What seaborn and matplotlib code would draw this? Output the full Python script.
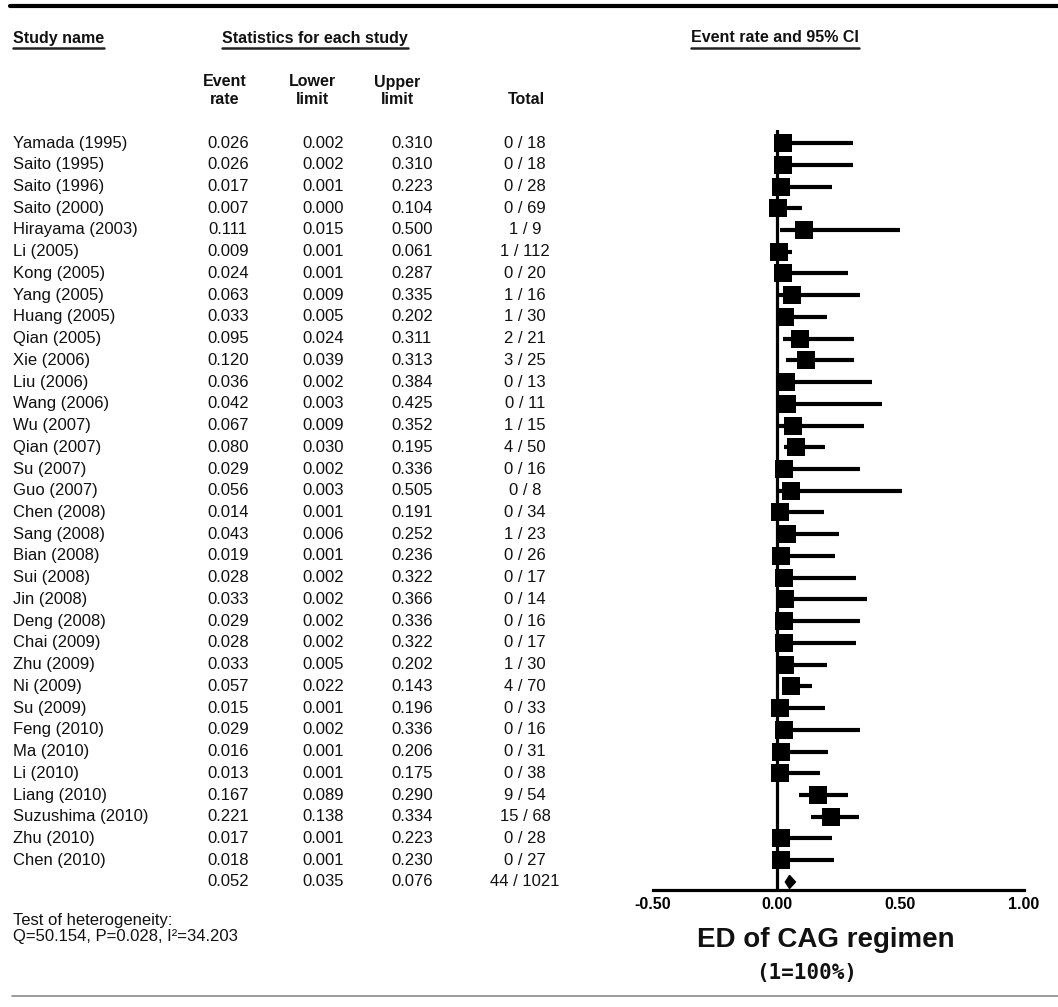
import numpy as np
import matplotlib
matplotlib.use("Agg")
import matplotlib.pyplot as plt
import matplotlib.transforms as mtransforms
from matplotlib.lines import Line2D
import seaborn as sns

studies = ["Yamada (1995)", "Saito (1995)", "Saito (1996)", "Saito (2000)", "Hirayama (2003)",
           "Li (2005)", "Kong (2005)", "Yang (2005)", "Huang (2005)", "Qian (2005)",
           "Xie (2006)", "Liu (2006)", "Wang (2006)", "Wu (2007)", "Qian (2007)",
           "Su (2007)", "Guo (2007)", "Chen (2008)", "Sang (2008)", "Bian (2008)",
           "Sui (2008)", "Jin (2008)", "Deng (2008)", "Chai (2009)", "Zhu (2009)",
           "Ni (2009)", "Su (2009)", "Feng (2010)", "Ma (2010)", "Li (2010)",
           "Liang (2010)", "Suzushima (2010)", "Zhu (2010)", "Chen (2010)"]
event_rate = [0.026, 0.026, 0.017, 0.007, 0.111, 0.009, 0.024, 0.063, 0.033, 0.095,
              0.120, 0.036, 0.042, 0.067, 0.080, 0.029, 0.056, 0.014, 0.043, 0.019,
              0.028, 0.033, 0.029, 0.028, 0.033, 0.057, 0.015, 0.029, 0.016, 0.013,
              0.167, 0.221, 0.017, 0.018]
lower = [0.002, 0.002, 0.001, 0.000, 0.015, 0.001, 0.001, 0.009, 0.005, 0.024,
         0.039, 0.002, 0.003, 0.009, 0.030, 0.002, 0.003, 0.001, 0.006, 0.001,
         0.002, 0.002, 0.002, 0.002, 0.005, 0.022, 0.001, 0.002, 0.001, 0.001,
         0.089, 0.138, 0.001, 0.001]
upper = [0.310, 0.310, 0.223, 0.104, 0.500, 0.061, 0.287, 0.335, 0.202, 0.311,
         0.313, 0.384, 0.425, 0.352, 0.195, 0.336, 0.505, 0.191, 0.252, 0.236,
         0.322, 0.366, 0.336, 0.322, 0.202, 0.143, 0.196, 0.336, 0.206, 0.175,
         0.290, 0.334, 0.223, 0.230]
events = [0, 0, 0, 0, 1, 1, 0, 1, 1, 2, 3, 0, 0, 1, 4, 0, 0, 0, 1, 0,
          0, 0, 0, 0, 1, 4, 0, 0, 0, 0, 9, 15, 0, 0]
totals = [18, 18, 28, 69, 9, 112, 20, 16, 30, 21, 25, 13, 11, 15, 50, 16, 8, 34, 23, 26,
          17, 14, 16, 17, 30, 70, 33, 16, 31, 38, 54, 68, 28, 27]

pooled = {"rate": 0.052, "lower": 0.035, "upper": 0.076, "events": 44, "total": 1021}
x_ticks = [-0.50, 0.00, 0.50, 1.00]

W, H = 1058, 1007

sns.set_style("white")
plt.rcParams["font.family"] = ["Liberation Sans", "DejaVu Sans"]
plt.rcParams["text.color"] = "#111111"


def px(x, y):
    return x / W, 1 - y / H


fig = plt.figure(figsize=(W / 100, H / 100), dpi=100)
fig.patch.set_facecolor("white")

# forest panel: -0.5 at 653px, 1.0 at 1024px; rows from y=130 down to the axis at 890
ax = fig.add_axes([653 / W, (H - 890) / H, 371 / W, 760 / H])
n = len(studies)
rows = np.arange(n)
sum_row = n

ax.axvline(0, color="black", lw=2.3, zorder=1)
ax.hlines(rows, lower, upper, color="black", lw=3.0, zorder=2)
sns.scatterplot(x=event_rate, y=rows, marker="s", s=165, color="black",
                linewidth=0, ax=ax, legend=False, zorder=3)

# pooled diamond
dx = [pooled["lower"], pooled["rate"], pooled["upper"], pooled["rate"]]
dy = [sum_row, sum_row - 0.3, sum_row, sum_row + 0.3]
ax.fill(dx, dy, color="black", zorder=3)

ax.set_xlim(-0.5, 1.0)
ax.set_ylim(34.37, -0.6)
ax.set_yticks([])
ax.set_xticks(x_ticks)
ax.set_xticklabels([f"{t:.2f}" for t in x_ticks], fontsize=11.5, fontweight="bold")
ax.tick_params(axis="x", direction="in", length=6, width=2.3, pad=5, colors="black")
for s in ["top", "left", "right"]:
    ax.spines[s].set_visible(False)
ax.spines["bottom"].set_linewidth(2.3)
ax.spines["bottom"].set_color("black")
ax.set_facecolor("none")

# table columns (x in figure pixels, y in row units)
col_x = {"rate": 228, "lower": 323, "upper": 412, "total": 525}
tr = mtransforms.blended_transform_factory(fig.transFigure, ax.transData)
txt_kw = dict(fontsize=12, va="center", transform=tr)
for i in range(n):
    fig.text(13 / W, i, studies[i], ha="left", **txt_kw)
    fig.text(col_x["rate"] / W, i, f"{event_rate[i]:.3f}", ha="center", **txt_kw)
    fig.text(col_x["lower"] / W, i, f"{lower[i]:.3f}", ha="center", **txt_kw)
    fig.text(col_x["upper"] / W, i, f"{upper[i]:.3f}", ha="center", **txt_kw)
    fig.text(col_x["total"] / W, i, f"{events[i]} / {totals[i]}", ha="center", **txt_kw)

fig.text(col_x["rate"] / W, sum_row, f"{pooled['rate']:.3f}", ha="center", **txt_kw)
fig.text(col_x["lower"] / W, sum_row, f"{pooled['lower']:.3f}", ha="center", **txt_kw)
fig.text(col_x["upper"] / W, sum_row, f"{pooled['upper']:.3f}", ha="center", **txt_kw)
fig.text(col_x["total"] / W, sum_row, f"{pooled['events']} / {pooled['total']}",
         ha="center", **txt_kw)

# headers
hdr_kw = dict(fontsize=11.5, fontweight="bold", va="center")
h1 = fig.text(*px(13, 38), "Study name", ha="left", **hdr_kw)
h2 = fig.text(*px(315, 38), "Statistics for each study", ha="center", **hdr_kw)
h3 = fig.text(*px(775, 38), "Event rate and 95% CI", ha="center", **hdr_kw)
fig.text(*px(225, 91), "Event\nrate", ha="center", linespacing=1.25, **hdr_kw)
fig.text(*px(312, 91), "Lower\nlimit", ha="center", linespacing=1.25, **hdr_kw)
fig.text(*px(397, 91), "Upper\nlimit", ha="center", linespacing=1.25, **hdr_kw)
fig.text(*px(526, 100), "Total", ha="center", **hdr_kw)

fig.text(*px(13, 920), "Test of heterogeneity:", ha="left", fontsize=12, va="center")
fig.text(*px(13, 937), "Q=50.154, P=0.028, I\u00b2=34.203", ha="left", fontsize=12, va="center")

fig.text(*px(826, 940), "ED of CAG regimen", ha="center", va="center",
         fontsize=20, fontweight="bold")
fig.text(*px(807, 973), "(1=100%)", ha="center", va="center", fontsize=15,
         fontweight="bold", family="DejaVu Sans Mono")

# rules
fig.add_artist(Line2D([10 / W, 1], [1 - 6 / H, 1 - 6 / H], transform=fig.transFigure,
                      color="black", lw=3))
fig.add_artist(Line2D([12 / W, 1], [1 - 996 / H, 1 - 996 / H], transform=fig.transFigure,
                      color="#8a8a8a", lw=1.2))

# underline the header titles
fig.canvas.draw()
renderer = fig.canvas.get_renderer()
for h in (h1, h2, h3):
    bb = h.get_window_extent(renderer)
    yline = (bb.y0 - 2) / H
    fig.add_artist(Line2D([bb.x0 / W, bb.x1 / W], [yline, yline], transform=fig.transFigure,
                          color="#222222", lw=1.8))

fig.savefig("out.png", dpi=100)
